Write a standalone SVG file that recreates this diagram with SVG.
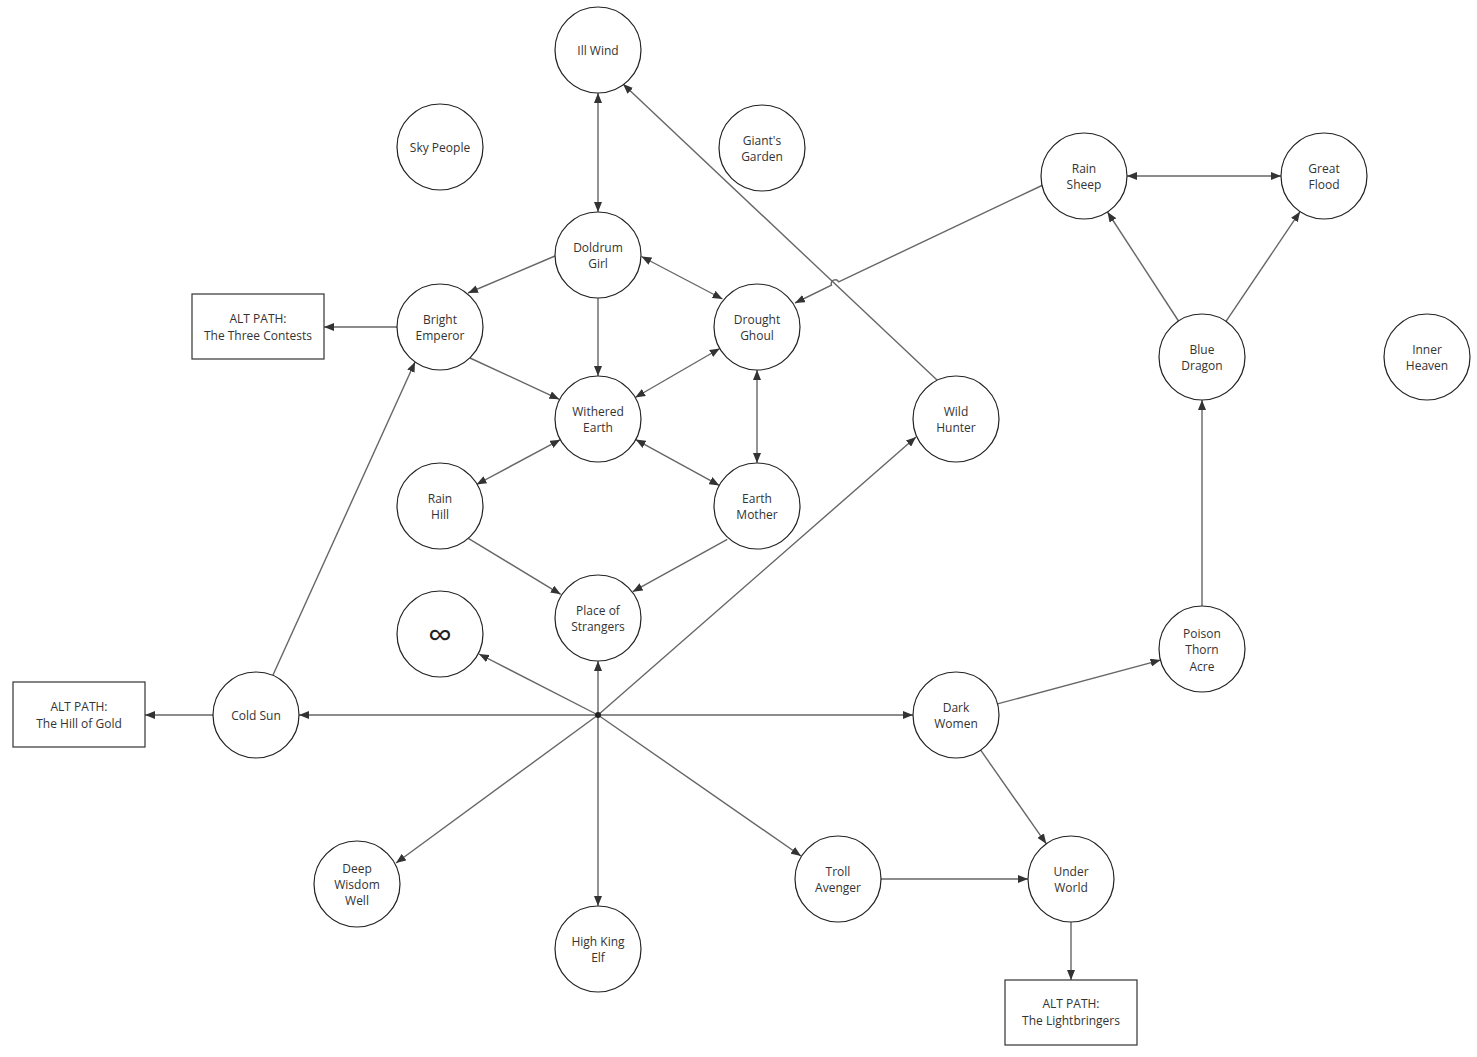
<svg xmlns="http://www.w3.org/2000/svg" width="1477" height="1057" viewBox="0 0 1477 1057">
<style>
.n circle{fill:#fff;stroke:#222;stroke-width:1.2}
.n rect{fill:#fff;stroke:#333;stroke-width:1.2}
text{font-family:"Open Sans","Noto Sans","DejaVu Sans",sans-serif;font-size:12px;fill:#333;text-anchor:middle;dominant-baseline:central}
.e path,.e line{stroke:#666;stroke-width:1.4;fill:none}
.a{marker-end:url(#ah)}
.b{marker-start:url(#ah);marker-end:url(#ah)}
</style>
<defs>
<marker id="ah" viewBox="0 0 10 8" refX="10" refY="4" markerWidth="10" markerHeight="8" markerUnits="userSpaceOnUse" orient="auto-start-reverse">
<path d="M0,0 L10,4 L0,8 z" fill="#333"/>
</marker>
</defs>
<rect width="1477" height="1057" fill="#fff"/>
<g class="e" id="connectors">
<line class="b" x1="598" y1="93" x2="598" y2="212"/>
<line class="a" x1="937" y1="380" x2="623" y2="84"/>
<path class="a" d="M1043 185 L838.7 281.8 A4 4 0 0 0 831.5 285.2 L795 303"/>
<line class="b" x1="1127" y1="176" x2="1281" y2="176"/>
<line class="a" x1="1178.5" y1="321" x2="1107.5" y2="212"/>
<line class="a" x1="1226" y1="321.3" x2="1300" y2="211.7"/>
<line class="a" x1="1202" y1="606" x2="1202" y2="400"/>
<line class="a" x1="997.5" y1="703.9" x2="1160.5" y2="660.1"/>
<line class="a" x1="980.7" y1="750.2" x2="1046.3" y2="843.8"/>
<line class="a" x1="881" y1="879" x2="1028" y2="879"/>
<line class="a" x1="1071" y1="922" x2="1071" y2="980"/>
<line class="a" x1="555" y1="256" x2="468" y2="293"/>
<line class="b" x1="641.5" y1="256.5" x2="722.5" y2="299"/>
<line class="a" x1="598" y1="298" x2="598" y2="376"/>
<line class="a" x1="397" y1="327" x2="324" y2="327"/>
<line class="a" x1="470" y1="358" x2="559.3" y2="399.3"/>
<line class="b" x1="635.2" y1="397.5" x2="719.8" y2="348.5"/>
<line class="b" x1="757" y1="370" x2="757" y2="463"/>
<line class="b" x1="560.3" y1="439.7" x2="476.5" y2="484.5"/>
<line class="b" x1="635.7" y1="439.6" x2="719.3" y2="485.4"/>
<line class="a" x1="468.3" y1="538.3" x2="560.7" y2="594.3"/>
<line class="a" x1="727.3" y1="539.3" x2="632.7" y2="591.7"/>
<line class="a" x1="598" y1="715" x2="598" y2="661"/>
<line class="a" x1="598" y1="715" x2="479" y2="654"/>
<line class="a" x1="598" y1="715" x2="299" y2="715"/>
<line class="a" x1="598" y1="715" x2="913" y2="715"/>
<line class="a" x1="598" y1="715" x2="916" y2="437"/>
<line class="a" x1="598" y1="715" x2="396" y2="863"/>
<line class="a" x1="598" y1="715" x2="598" y2="906"/>
<line class="a" x1="598" y1="715" x2="801" y2="856"/>
<line class="a" x1="213" y1="715" x2="145" y2="715"/>
<line class="a" x1="273" y1="675" x2="415" y2="362"/>
<circle cx="598" cy="715" r="3" fill="#222"/>
</g>
<g class="n" id="ill-wind"><circle cx="598" cy="50" r="43"/><text x="598" y="50">Ill Wind</text></g>
<g class="n" id="sky-people"><circle cx="440" cy="147" r="43"/><text x="440" y="147">Sky People</text></g>
<g class="n" id="giants-garden"><circle cx="762" cy="148" r="43"/><text x="762" y="140">Giant's</text><text x="762" y="156">Garden</text></g>
<g class="n" id="rain-sheep"><circle cx="1084" cy="176" r="43"/><text x="1084" y="168">Rain</text><text x="1084" y="184">Sheep</text></g>
<g class="n" id="great-flood"><circle cx="1324" cy="176" r="43"/><text x="1324" y="168">Great</text><text x="1324" y="184">Flood</text></g>
<g class="n" id="doldrum-girl"><circle cx="598" cy="255" r="43"/><text x="598" y="247">Doldrum</text><text x="598" y="263">Girl</text></g>
<g class="n" id="bright-emperor"><circle cx="440" cy="327" r="43"/><text x="440" y="319">Bright</text><text x="440" y="335">Emperor</text></g>
<g class="n" id="drought-ghoul"><circle cx="757" cy="327" r="43"/><text x="757" y="319">Drought</text><text x="757" y="335">Ghoul</text></g>
<g class="n" id="blue-dragon"><circle cx="1202" cy="357" r="43"/><text x="1202" y="349">Blue</text><text x="1202" y="365">Dragon</text></g>
<g class="n" id="inner-heaven"><circle cx="1427" cy="357" r="43"/><text x="1427" y="349">Inner</text><text x="1427" y="365">Heaven</text></g>
<g class="n" id="withered-earth"><circle cx="598" cy="419" r="43"/><text x="598" y="411">Withered</text><text x="598" y="427">Earth</text></g>
<g class="n" id="wild-hunter"><circle cx="956" cy="419" r="43"/><text x="956" y="411">Wild</text><text x="956" y="427">Hunter</text></g>
<g class="n" id="rain-hill"><circle cx="440" cy="506" r="43"/><text x="440" y="498">Rain</text><text x="440" y="514">Hill</text></g>
<g class="n" id="earth-mother"><circle cx="757" cy="506" r="43"/><text x="757" y="498">Earth</text><text x="757" y="514">Mother</text></g>
<g class="n" id="place-of-strangers"><circle cx="598" cy="618" r="43"/><text x="598" y="610">Place of</text><text x="598" y="626">Strangers</text></g>
<g class="n" id="infinity"><circle cx="440" cy="634" r="43"/><text x="440" y="634" style="font-size:34px;fill:#222">∞</text></g>
<g class="n" id="poison-thorn-acre"><circle cx="1202" cy="649" r="43"/><text x="1202" y="633">Poison</text><text x="1202" y="649">Thorn</text><text x="1202" y="666">Acre</text></g>
<g class="n" id="cold-sun"><circle cx="256" cy="715" r="43"/><text x="256" y="715">Cold Sun</text></g>
<g class="n" id="dark-women"><circle cx="956" cy="715" r="43"/><text x="956" y="707">Dark</text><text x="956" y="723">Women</text></g>
<g class="n" id="deep-wisdom-well"><circle cx="357" cy="884" r="43"/><text x="357" y="868">Deep</text><text x="357" y="884">Wisdom</text><text x="357" y="900">Well</text></g>
<g class="n" id="troll-avenger"><circle cx="838" cy="879" r="43"/><text x="838" y="871">Troll</text><text x="838" y="887">Avenger</text></g>
<g class="n" id="under-world"><circle cx="1071" cy="879" r="43"/><text x="1071" y="871">Under</text><text x="1071" y="887">World</text></g>
<g class="n" id="high-king-elf"><circle cx="598" cy="949" r="43"/><text x="598" y="941">High King</text><text x="598" y="957">Elf</text></g>
<g class="n" id="alt-three-contests"><rect x="192" y="294" width="132" height="65"/><text x="258" y="318">ALT PATH:</text><text x="258" y="335">The Three Contests</text></g>
<g class="n" id="alt-hill-of-gold"><rect x="13" y="682" width="132" height="65"/><text x="79" y="706">ALT PATH:</text><text x="79" y="723">The Hill of Gold</text></g>
<g class="n" id="alt-lightbringers"><rect x="1005" y="980" width="132" height="65"/><text x="1071" y="1003">ALT PATH:</text><text x="1071" y="1020">The Lightbringers</text></g>
</svg>
